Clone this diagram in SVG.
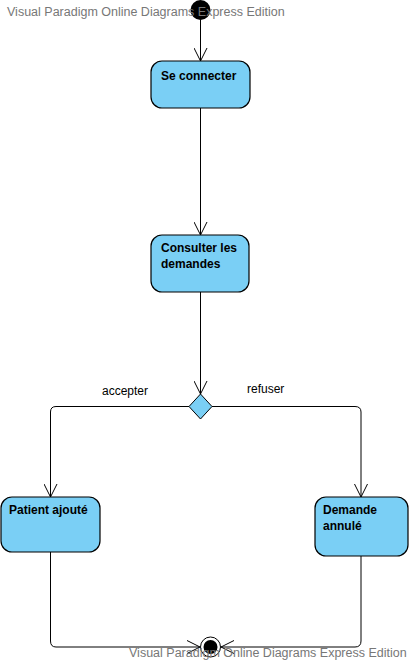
<svg xmlns="http://www.w3.org/2000/svg" width="411" height="663" viewBox="0 0 411 663">
<defs>
<style>
.box{fill:#7ACFF5;stroke:#000;stroke-width:1.2}
.t{font-family:"Liberation Sans",Arial,sans-serif;font-size:12px;font-weight:bold;fill:#000}
.l{font-family:"Liberation Sans",Arial,sans-serif;font-size:12px;fill:#000}
.wm{font-family:"Liberation Sans",Arial,sans-serif;font-size:12.5px;fill:#777}
.e{fill:none;stroke:#000;stroke-width:1}
</style>
<marker id="arr" viewBox="0 0 14 14" refX="13" refY="7" markerWidth="14" markerHeight="14" markerUnits="userSpaceOnUse" orient="auto">
<path d="M0,0.5 L13,7 L0,13.5" fill="none" stroke="#000" stroke-width="1"/>
</marker>
</defs>
<rect width="411" height="663" fill="#fff"/>
<g id="connectors">
<path class="e" d="M200.5,20 V61" marker-end="url(#arr)"/>
<path class="e" d="M200.5,108 V235" marker-end="url(#arr)"/>
<path class="e" d="M200.5,292 V394" marker-end="url(#arr)"/>
<path class="e" d="M189,406.5 H56 Q50.5,406.5 50.5,412 V497" marker-end="url(#arr)"/>
<path class="e" d="M212,406.5 H355 Q361,406.5 361,412 V497" marker-end="url(#arr)"/>
<path class="e" d="M50.5,552 V641 Q50.5,647 56,647 H200" marker-end="url(#arr)"/>
<path class="e" d="M361,556 V641 Q361,647 355,647 H221" marker-end="url(#arr)"/>
<text class="l" x="102" y="395">accepter</text>
<text class="l" x="247" y="393">refuser</text>
</g>
<g id="initial">
<circle cx="200.5" cy="10" r="10" fill="#000"/>
</g>
<g id="se-connecter">
<rect class="box" x="151" y="61" width="99" height="47" rx="11"/>
<text class="t" x="161" y="80">Se connecter</text>
</g>
<g id="consulter">
<rect class="box" x="151" y="235" width="98" height="57" rx="11"/>
<text class="t" x="161" y="252">Consulter les</text>
<text class="t" x="161" y="268">demandes</text>
</g>
<g id="decision">
<path d="M200.5,394 L212,406.5 L200.5,419 L189,406.5 Z" fill="#7ACFF5" stroke="#000" stroke-width="1"/>
</g>
<g id="patient-ajoute">
<rect class="box" x="1" y="497" width="99" height="55" rx="11"/>
<text class="t" x="9" y="514">Patient ajouté</text>
</g>
<g id="demande-annule">
<rect class="box" x="315" y="497" width="93" height="59" rx="11"/>
<text class="t" x="323" y="514">Demande</text>
<text class="t" x="323" y="530">annulé</text>
</g>
<g id="final">
<circle cx="210.5" cy="647" r="10" fill="#fff" stroke="#000" stroke-width="1"/>
<circle cx="210.5" cy="647" r="7" fill="#000"/>
</g>
<text class="wm" x="7" y="16">Visual Paradigm Online Diagrams Express Edition</text>
<text class="wm" x="129" y="657">Visual Paradigm Online Diagrams Express Edition</text>
</svg>
